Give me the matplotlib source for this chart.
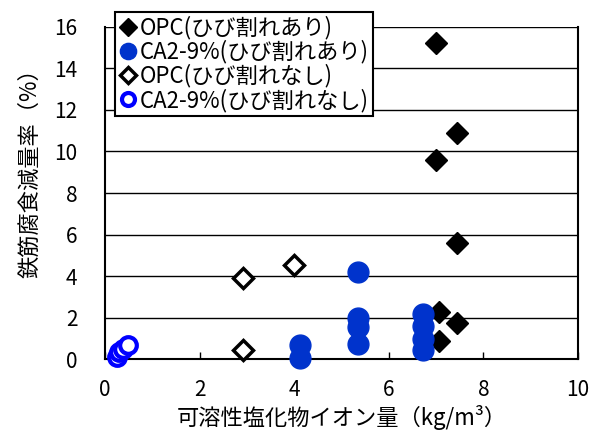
import matplotlib
matplotlib.use("Agg")
import matplotlib.pyplot as plt

plt.rcParams['font.family'] = ['Noto Sans CJK JP', 'DejaVu Sans']

# Soluble chloride (kg/m3) vs. rebar corrosion mass loss (%)
opc_crack_x = [7.0, 7.45, 7.0, 7.45, 7.05, 7.45, 7.05]
opc_crack_y = [15.2, 10.9, 9.6, 5.6, 2.3, 1.75, 0.9]

ca_crack_x = [4.12, 4.12, 5.34, 5.34, 5.34, 5.34, 6.73, 6.73, 6.73, 6.73]
ca_crack_y = [0.05, 0.7, 0.75, 1.55, 2.0, 4.2, 0.45, 1.0, 1.6, 2.2]

opc_nocrack_x = [2.91, 4.0, 2.91]
opc_nocrack_y = [3.9, 4.55, 0.45]

ca_nocrack_x = [0.25, 0.3, 0.38, 0.48]
ca_nocrack_y = [0.1, 0.35, 0.5, 0.7]

labels = ["OPC(ひび割れあり)", "CA2-9%(ひび割れあり)",
          "OPC(ひび割れなし)", "CA2-9%(ひび割れなし)"]
x_ticks = [0, 2, 4, 6, 8, 10]
y_ticks = [0, 2, 4, 6, 8, 10, 12, 14, 16]

fig = plt.figure(figsize=(5.95, 4.41), dpi=100)
ax = fig.add_axes([0.1765, 0.185, 0.795, 0.7547])

ax.plot(opc_crack_x, opc_crack_y, ls='none', marker='D', ms=11.5,
        mfc='black', mec='black', mew=1, clip_on=False, label=labels[0], zorder=3)
ax.plot(ca_crack_x, ca_crack_y, ls='none', marker='o', ms=15,
        mfc='#0033CC', mec='#0033CC', mew=1, clip_on=False, label=labels[1], zorder=4)
ax.plot(opc_nocrack_x, opc_nocrack_y, ls='none', marker='D', ms=10,
        mfc='white', mec='black', mew=2.5, clip_on=False, label=labels[2], zorder=3)
ax.plot(ca_nocrack_x, ca_nocrack_y, ls='none', marker='o', ms=12,
        mfc='white', mec='#0000FF', mew=3, clip_on=False, label=labels[3], zorder=3)

ax.set_xlim(0, 10)
ax.set_ylim(0, 16)
ax.set_xticks(x_ticks)
ax.set_yticks(y_ticks)

ax.yaxis.grid(True, color='black', lw=1)
ax.set_axisbelow(True)
ax.spines['top'].set_visible(False)
for s in ('left', 'bottom', 'right'):
    ax.spines[s].set_linewidth(1.5)
    ax.spines[s].set_color('black')

ax.tick_params(axis='y', length=0, pad=20, labelsize=15)
ax.tick_params(axis='x', direction='in', length=5, width=1, pad=14, labelsize=15)

ax.set_xlabel("可溶性塩化物イオン量（kg/m³）", fontsize=16, labelpad=3)
fig.text(30 / 595, 1 - 168 / 441, "鉄筋腐食減量率（%）", fontsize=16,
         rotation=90, ha='center', va='center')

leg = ax.legend(loc='upper left', bbox_to_anchor=(115 / 595, 1 - 12 / 441),
                bbox_transform=fig.transFigure, borderaxespad=0, fontsize=16,
                frameon=True, fancybox=False, framealpha=1, edgecolor='black',
                borderpad=0.18, handletextpad=0.1, handlelength=0.85,
                labelspacing=0.02, markerscale=0.78)
leg.get_frame().set_linewidth(1.5)

fig.savefig("out.png", dpi=100)
